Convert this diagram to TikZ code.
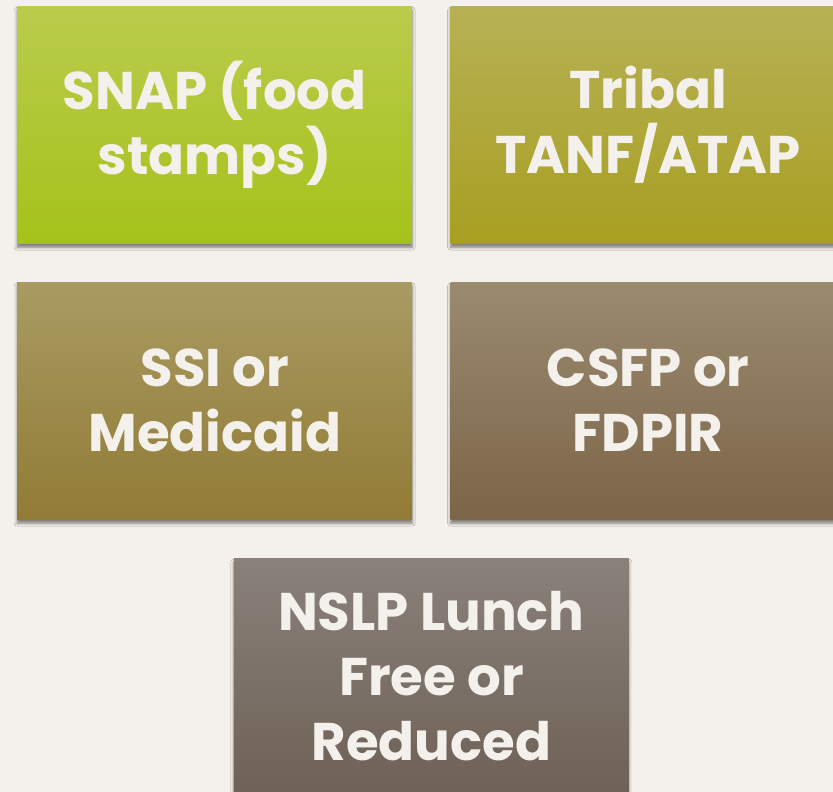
\documentclass[tikz,border=0pt]{standalone}
\usepackage{xcolor}
\usepackage{fontspec}
\setmainfont{Poppins}
\usepackage{tikz}
\usetikzlibrary{positioning, calc, shadows.blur}

\definecolor{nen}{HTML}{F4F1EC}
\definecolor{chu}{HTML}{F4F1EC}

\begin{document}
\begin{tikzpicture}[
    % Cấu hình hộp chương trình
    hop/.style={rectangle, minimum width=395pt, minimum height=237pt, inner sep=0pt,
        align=center, text=chu, font=\bfseries\fontsize{53}{65}\selectfont,
        blur shadow={shadow xshift=0pt, shadow yshift=-4pt, shadow blur radius=3pt, shadow opacity=50}},
    % Khoảng cách giữa các hộp
    node distance=38.5pt and 38pt
]

% Nền
\fill[nen] (0,0) rectangle (833pt,-792pt);
\useasboundingbox (0,0) rectangle (833pt,-792pt);

% Hàng 1
\node[hop, anchor=north west, top color={rgb,255:red,185;green,204;blue,76}, bottom color={rgb,255:red,165;green,194;blue,26}]
    (snap) at (17pt,-6pt) {SNAP (food\\stamps)};
\node[hop, right=of snap, top color={rgb,255:red,183;green,177;blue,85}, bottom color={rgb,255:red,168;green,159;blue,34}]
    (tanf) {Tribal\\TANF/ATAP};

% Hàng 2
\node[hop, below=of snap, top color={rgb,255:red,169;green,155;blue,98}, bottom color={rgb,255:red,145;green,123;blue,54}]
    (ssi) {SSI or\\Medicaid};
\node[hop, below=of tanf, top color={rgb,255:red,154;green,138;blue,112}, bottom color={rgb,255:red,124;green,101;blue,72}]
    (csfp) {CSFP or\\FDPIR};

% Hàng 3 (giữa)
\coordinate (giua) at ($(ssi.south)!0.5!(csfp.south)$);
\node[hop, below=of giua, top color={rgb,255:red,138;green,129;blue,123}, bottom color={rgb,255:red,110;green,97;blue,86}]
    (nslp) {NSLP Lunch\\Free or\\Reduced};

\end{tikzpicture}
\end{document}
